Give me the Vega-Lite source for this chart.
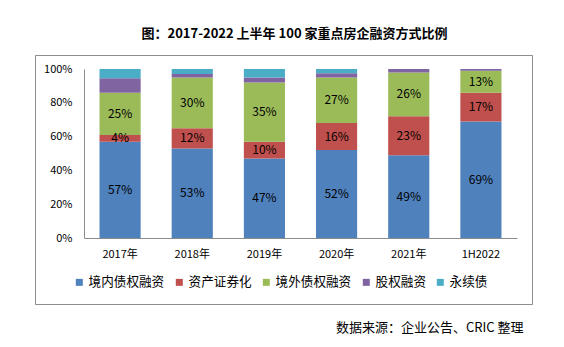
{
  "$schema": "https://vega.github.io/schema/vega-lite/v6.json",
  "width": 497,
  "height": 249,
  "autosize": {"type": "none"},
  "padding": {"left": 35, "top": 55, "right": 32, "bottom": 43},
  "background": "white",
  "config": {
    "view": {"stroke": "#8c8c8c", "strokeWidth": 1},
    "font": "Noto Sans CJK SC"
  },
  "title": {
    "text": "图：2017-2022 上半年 100 家重点房企融资方式比例",
    "fontSize": 13,
    "fontWeight": "bold",
    "font": "Noto Sans CJK SC",
    "color": "#000000",
    "anchor": "middle",
    "dx": 11,
    "offset": 14
  },
  "data": {
    "values": [
      {"year": "2017年", "type": "境内债权融资", "k": 1, "v": 57, "label": "57%"},
      {"year": "2017年", "type": "资产证券化", "k": 2, "v": 4, "label": "4%"},
      {"year": "2017年", "type": "境外债权融资", "k": 3, "v": 25, "label": "25%"},
      {"year": "2017年", "type": "股权融资", "k": 4, "v": 8.5, "label": ""},
      {"year": "2017年", "type": "永续债", "k": 5, "v": 5.5, "label": ""},
      {"year": "2018年", "type": "境内债权融资", "k": 1, "v": 53, "label": "53%"},
      {"year": "2018年", "type": "资产证券化", "k": 2, "v": 12, "label": "12%"},
      {"year": "2018年", "type": "境外债权融资", "k": 3, "v": 30, "label": "30%"},
      {"year": "2018年", "type": "股权融资", "k": 4, "v": 2, "label": ""},
      {"year": "2018年", "type": "永续债", "k": 5, "v": 3, "label": ""},
      {"year": "2019年", "type": "境内债权融资", "k": 1, "v": 47, "label": "47%"},
      {"year": "2019年", "type": "资产证券化", "k": 2, "v": 10, "label": "10%"},
      {"year": "2019年", "type": "境外债权融资", "k": 3, "v": 35, "label": "35%"},
      {"year": "2019年", "type": "股权融资", "k": 4, "v": 3, "label": ""},
      {"year": "2019年", "type": "永续债", "k": 5, "v": 5, "label": ""},
      {"year": "2020年", "type": "境内债权融资", "k": 1, "v": 52, "label": "52%"},
      {"year": "2020年", "type": "资产证券化", "k": 2, "v": 16, "label": "16%"},
      {"year": "2020年", "type": "境外债权融资", "k": 3, "v": 27, "label": "27%"},
      {"year": "2020年", "type": "股权融资", "k": 4, "v": 2.5, "label": ""},
      {"year": "2020年", "type": "永续债", "k": 5, "v": 2.5, "label": ""},
      {"year": "2021年", "type": "境内债权融资", "k": 1, "v": 49, "label": "49%"},
      {"year": "2021年", "type": "资产证券化", "k": 2, "v": 23, "label": "23%"},
      {"year": "2021年", "type": "境外债权融资", "k": 3, "v": 26, "label": "26%"},
      {"year": "2021年", "type": "股权融资", "k": 4, "v": 2, "label": ""},
      {"year": "2021年", "type": "永续债", "k": 5, "v": 0, "label": ""},
      {"year": "1H2022", "type": "境内债权融资", "k": 1, "v": 69, "label": "69%"},
      {"year": "1H2022", "type": "资产证券化", "k": 2, "v": 17, "label": "17%"},
      {"year": "1H2022", "type": "境外债权融资", "k": 3, "v": 13, "label": "13%"},
      {"year": "1H2022", "type": "股权融资", "k": 4, "v": 1, "label": ""},
      {"year": "1H2022", "type": "永续债", "k": 5, "v": 0, "label": ""}
    ]
  },
  "transform": [
    {"stack": "v", "groupby": ["year"], "sort": [{"field": "k", "order": "ascending"}], "as": ["y0", "y1"]},
    {"calculate": "(datum.y0 + datum.y1) / 2", "as": "ymid"}
  ],
  "encoding": {
    "x": {
      "field": "year",
      "type": "nominal",
      "sort": null,
      "scale": {"range": [49, 482], "paddingInner": 0.43, "paddingOuter": 0.215},
      "axis": {
        "title": "数据来源：企业公告、CRIC 整理",
        "titleFontSize": 13,
        "titleFontWeight": "normal",
        "titleColor": "#000000",
        "titleFont": "Noto Sans CJK SC",
        "titleX": 488,
        "titleY": 89,
        "titleAlign": "right",
        "titleBaseline": "middle",
        "titleAnchor": null,
        "offset": -66,
        "labelAngle": 0,
        "labelFontSize": 11,
        "labelColor": "#000000",
        "labelPadding": 10,
        "ticks": false,
        "domainColor": "#8c8c8c",
        "grid": false
      }
    }
  },
  "layer": [
    {
      "mark": {"type": "bar"},
      "encoding": {
        "y": {
          "field": "y0",
          "type": "quantitative",
          "scale": {"domain": [0, 100], "range": [183, 14]},
          "axis": {
            "title": null,
            "offset": -49,
            "values": [0, 20, 40, 60, 80, 100],
            "labelExpr": "datum.value + '%'",
            "labelFontSize": 11,
            "labelColor": "#000000",
            "labelPadding": 12,
            "ticks": false,
            "grid": false,
            "domainColor": "#8c8c8c"
          }
        },
        "y2": {"field": "y1"},
        "color": {
          "field": "type",
          "type": "nominal",
          "sort": ["境内债权融资", "资产证券化", "境外债权融资", "股权融资", "永续债"],
          "scale": {
            "domain": ["境内债权融资", "资产证券化", "境外债权融资", "股权融资", "永续债"],
            "range": ["#4f81bd", "#c0504d", "#9bbb59", "#8064a2", "#4bacc6"]
          },
          "legend": {
            "title": null,
            "orient": "none",
            "legendX": 38,
            "legendY": 221,
            "direction": "horizontal",
            "symbolType": "square",
            "symbolSize": 49,
            "symbolStrokeWidth": 0,
            "labelFontSize": 12.6,
            "labelColor": "#000000",
            "labelOffset": 3,
            "columnPadding": 8
          }
        }
      }
    },
    {
      "mark": {"type": "text", "fontSize": 12, "color": "#000000"},
      "encoding": {
        "y": {"field": "ymid", "type": "quantitative"},
        "text": {"field": "label"}
      }
    }
  ]
}
